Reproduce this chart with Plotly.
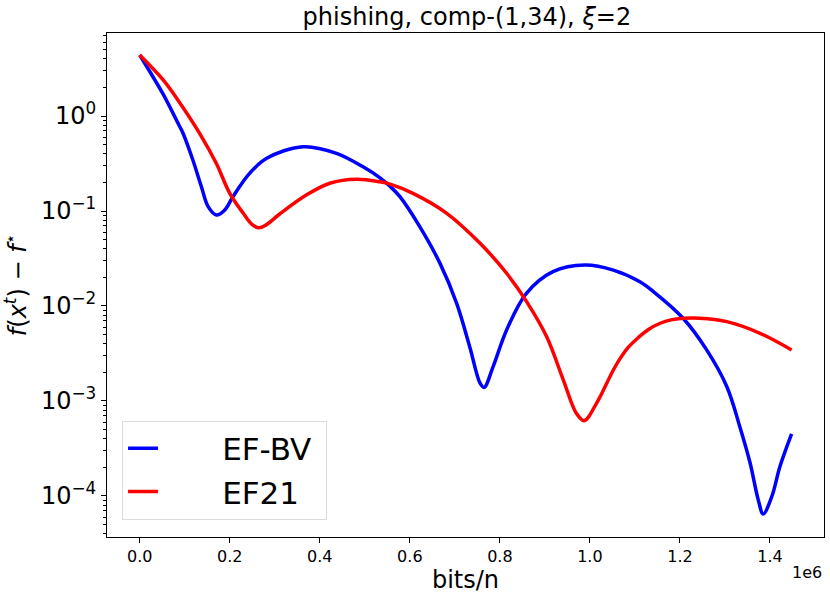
import plotly.graph_objects as go

# ---- data (bits/n in units of 1e6, f(x^t)-f*) ----
ef_bv_x = [0, 0.052, 0.0667, 0.089, 0.0962, 0.118, 0.137, 0.152, 0.170, 0.189, 0.207, 0.244,
           0.282, 0.363, 0.437, 0.496, 0.533, 0.556, 0.578, 0.622, 0.667, 0.704, 0.733, 0.756,
           0.765, 0.785, 0.815, 0.859, 0.918, 0.989, 1.052, 1.111, 1.141, 1.207, 1.259, 1.304,
           1.333, 1.356, 1.374, 1.385, 1.404, 1.422, 1.448]
ef_bv_y = [4.39, 1.70, 1.25, 0.77, 0.658, 0.344, 0.180, 0.111, 0.0908, 0.1025, 0.1415, 0.249,
           0.359, 0.475, 0.405, 0.292, 0.225, 0.182, 0.1415, 0.0684, 0.0281, 0.01066, 0.00373, 0.00154,
           0.00139, 0.0023, 0.00559, 0.0136, 0.023, 0.0270, 0.0239, 0.018, 0.0142, 0.00743, 0.00347,
           0.00142, 5.36e-4, 2.21e-4, 9.08e-5, 6.47e-5, 9.84e-5, 2.03e-4, 4.5e-4]

ef21_x = [0, 0.052, 0.085, 0.133, 0.170, 0.2, 0.230, 0.25, 0.265, 0.280, 0.311, 0.370, 0.422,
          0.482, 0.533, 0.556, 0.607, 0.682, 0.756, 0.815, 0.859, 0.904, 0.941, 0.970, 0.987,
          1.015, 1.052, 1.067, 1.085, 1.104, 1.130, 1.156, 1.180, 1.207, 1.244, 1.304, 1.378, 1.448]
ef21_y = [4.39, 2.40, 1.47, 0.658, 0.318, 0.1535, 0.0946, 0.072, 0.0665, 0.071, 0.093, 0.147, 0.196,
          0.216, 0.203, 0.192, 0.1535, 0.0946, 0.0457, 0.0221, 0.0112, 0.00475, 0.00166, 7.4e-4, 6.2e-4,
          9.5e-4, 0.00212, 0.00279, 0.00366, 0.00450, 0.00566, 0.00658, 0.00714, 0.00741, 0.00745,
          0.00684, 0.00516, 0.00344]

x_tick_vals = [0.0, 0.2, 0.4, 0.6, 0.8, 1.0, 1.2, 1.4]
x_tick_text = ["0.0", "0.2", "0.4", "0.6", "0.8", "1.0", "1.2", "1.4"]
y_tick_exps = [0, -1, -2, -3, -4]

SCALE = 1e6
FONT = "DejaVu Sans"
PAD = "\u00a0" * 6

fig = go.Figure()
fig.add_trace(go.Scatter(x=[v * SCALE for v in ef_bv_x], y=ef_bv_y, mode="lines",
                         name=PAD + "EF-BV\u00a0",
                         line=dict(color="#0000ff", width=3.5, shape="spline", smoothing=1.0)))
fig.add_trace(go.Scatter(x=[v * SCALE for v in ef21_x], y=ef21_y, mode="lines", name=PAD + "EF21",
                         line=dict(color="#ff0000", width=3.5, shape="spline", smoothing=1.0)))

minor_vals = [k * 10.0 ** e for e in range(-5, 1) for k in range(2, 10)]

fig.update_layout(
    width=830, height=597,
    margin=dict(l=107, r=6, t=33, b=60),
    plot_bgcolor="white", paper_bgcolor="white",
    font=dict(family=FONT, color="black"),
    title=dict(text="phishing, comp-(1,34), <i>ξ</i>=2", x=0.5625, xanchor="center",
               y=0.973, yanchor="middle", font=dict(size=24, family=FONT)),
    legend=dict(x=0.021, y=0.231, xanchor="left", yanchor="top",
                bgcolor="rgba(255,255,255,0.8)", bordercolor="#dcdcdc", borderwidth=1,
                font=dict(size=31, family=FONT)),
    showlegend=True,
)
fig.update_xaxes(
    range=[-0.0727 * SCALE, 1.52 * SCALE], automargin=False,
    tickvals=[v * SCALE for v in x_tick_vals], ticktext=x_tick_text,
    tickfont=dict(size=16), ticks="outside", ticklen=5, tickcolor="black",
    showline=True, linecolor="black", linewidth=1, mirror=True,
    showgrid=False, zeroline=False,
    title=dict(text="bits/n", font=dict(size=24), standoff=4),
)
fig.update_yaxes(
    type="log", range=[-4.432, 0.874], automargin=False,
    tickvals=[10.0 ** e for e in y_tick_exps],
    ticktext=["10<sup>%s</sup>" % (str(e) if e >= 0 else "\u2212" + str(-e)) for e in y_tick_exps],
    tickfont=dict(size=24), ticks="outside", ticklen=5, tickcolor="black",
    minor=dict(tickvals=minor_vals, ticks="outside", ticklen=3, tickcolor="black", showgrid=False),
    showline=True, linecolor="black", linewidth=1, mirror=True,
    showgrid=False, zeroline=False,
    title=dict(text="<i>f</i>(<i>x</i><sup><i>t</i></sup>) \u2212 <i>f</i><sup>\u22c6</sup>",
               font=dict(size=24), standoff=12),
)
fig.add_annotation(text="1e6", xref="paper", yref="paper", x=1.0, y=-0.071,
                   xanchor="right", yanchor="middle", showarrow=False,
                   font=dict(size=16, family=FONT))

fig.write_html("out.html", config={"displayModeBar": False},
               post_script="document.body.style.margin='0';document.body.style.overflow='hidden';")
